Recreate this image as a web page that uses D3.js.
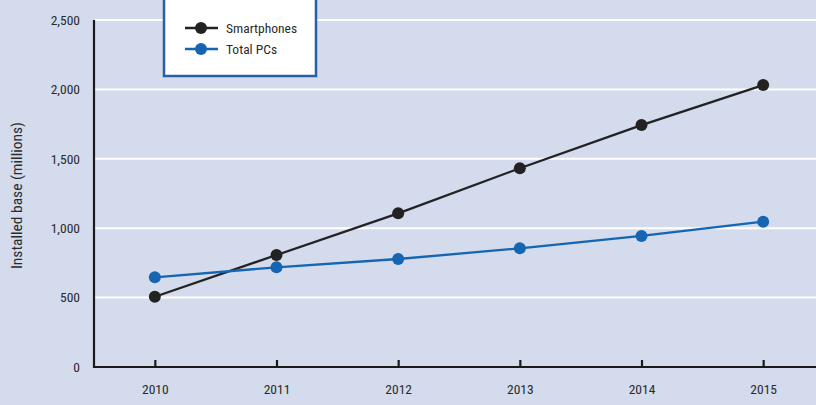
<!DOCTYPE html>
<html>
<head>
<meta charset="utf-8">
<script src="https://cdn.jsdelivr.net/npm/d3@7"></script>
<style>
  html, body { margin: 0; padding: 0; background: #d3dbec; }
  svg { display: block; }
  text { font-family: "Liberation Sans Narrow", "Arial Narrow", "Roboto Condensed", "Liberation Sans", sans-serif; fill: #2a2a2a; }
</style>
</head>
<body>
<svg id="chart" width="816" height="405"></svg>
<script>
const years = ["2010", "2011", "2012", "2013", "2014", "2015"];
const smartphones = [506, 807, 1107, 1432, 1743, 2031];
const totalPCs = [646, 718, 778, 855, 944, 1047];
const yTicks = [0, 500, 1000, 1500, 2000, 2500];
const seriesNames = ["Smartphones", "Total PCs"];
const seriesColors = ["#222222", "#1565b3"];

const svg = d3.select("#chart");
const W = 816, H = 405;
svg.append("rect").attr("width", W).attr("height", H).attr("fill", "#d3dbec");

const x = d3.scalePoint().domain(years).range([94, 824]).padding(0.5);
const y = d3.scaleLinear().domain([0, 2500]).range([367, 20]);

// gridlines
svg.append("g").selectAll("line").data(yTicks.filter(d => d > 0)).join("line")
  .attr("x1", 95).attr("x2", W)
  .attr("y1", d => y(d)).attr("y2", d => y(d))
  .attr("stroke", "#ffffff").attr("stroke-width", 2);

// y axis
const yAxis = d3.axisLeft(y).tickValues(yTicks).tickSize(0).tickPadding(14)
  .tickFormat(d3.format(","));
const gy = svg.append("g").attr("transform", "translate(94,0)").call(yAxis);
gy.select(".domain").remove();
gy.selectAll("text").attr("font-size", 13.5).style("fill", "#2a2a2a");
svg.append("line").attr("x1", 94).attr("x2", 94).attr("y1", y(2500)).attr("y2", y(0) + 1)
  .attr("stroke", "#1a1a1a").attr("stroke-width", 2.2);

// x axis
const xAxis = d3.axisBottom(x).tickSize(-7).tickPadding(17);
const gx = svg.append("g").attr("transform", `translate(0,${y(0)})`).call(xAxis);
gx.select(".domain").remove();
gx.selectAll(".tick line").attr("stroke", "#1a1a1a").attr("stroke-width", 2.2);
gx.selectAll("text").attr("font-size", 13.5).style("fill", "#2a2a2a");
svg.append("line").attr("x1", 93).attr("x2", W).attr("y1", y(0)).attr("y2", y(0))
  .attr("stroke", "#1a1a1a").attr("stroke-width", 2.2);

// y label
svg.append("text")
  .attr("transform", `translate(22,${(y(0) + y(2500)) / 2 + 2}) rotate(-90)`)
  .attr("text-anchor", "middle").attr("font-size", 15.5)
  .text("Installed base (millions)");

// series
const allSeries = [smartphones, totalPCs];
const line = d3.line().x((d, i) => x(years[i])).y(d => y(d));
allSeries.forEach((vals, s) => {
  svg.append("path").datum(vals).attr("d", line)
    .attr("fill", "none").attr("stroke", seriesColors[s]).attr("stroke-width", 2.3);
});
allSeries.slice().reverse().forEach((vals, r) => {
  const s = allSeries.length - 1 - r;
  svg.append("g").selectAll("circle").data(vals).join("circle")
    .attr("cx", (d, i) => x(years[i])).attr("cy", d => y(d)).attr("r", 6)
    .attr("fill", seriesColors[s]);
});

// legend
const lg = svg.append("g");
lg.append("rect").attr("x", 164).attr("y", -3).attr("width", 152).attr("height", 79)
  .attr("fill", "#ffffff").attr("stroke", "#2b5ea6").attr("stroke-width", 2.5);
seriesNames.forEach((name, i) => {
  const ly = 28 + i * 21;
  lg.append("line").attr("x1", 185).attr("x2", 218).attr("y1", ly).attr("y2", ly)
    .attr("stroke", seriesColors[i]).attr("stroke-width", 2.5);
  lg.append("circle").attr("cx", 201).attr("cy", ly).attr("r", 6).attr("fill", seriesColors[i]);
  lg.append("text").attr("x", 226).attr("y", ly + 5).attr("font-size", 13.5).text(name);
});
</script>
</body>
</html>
